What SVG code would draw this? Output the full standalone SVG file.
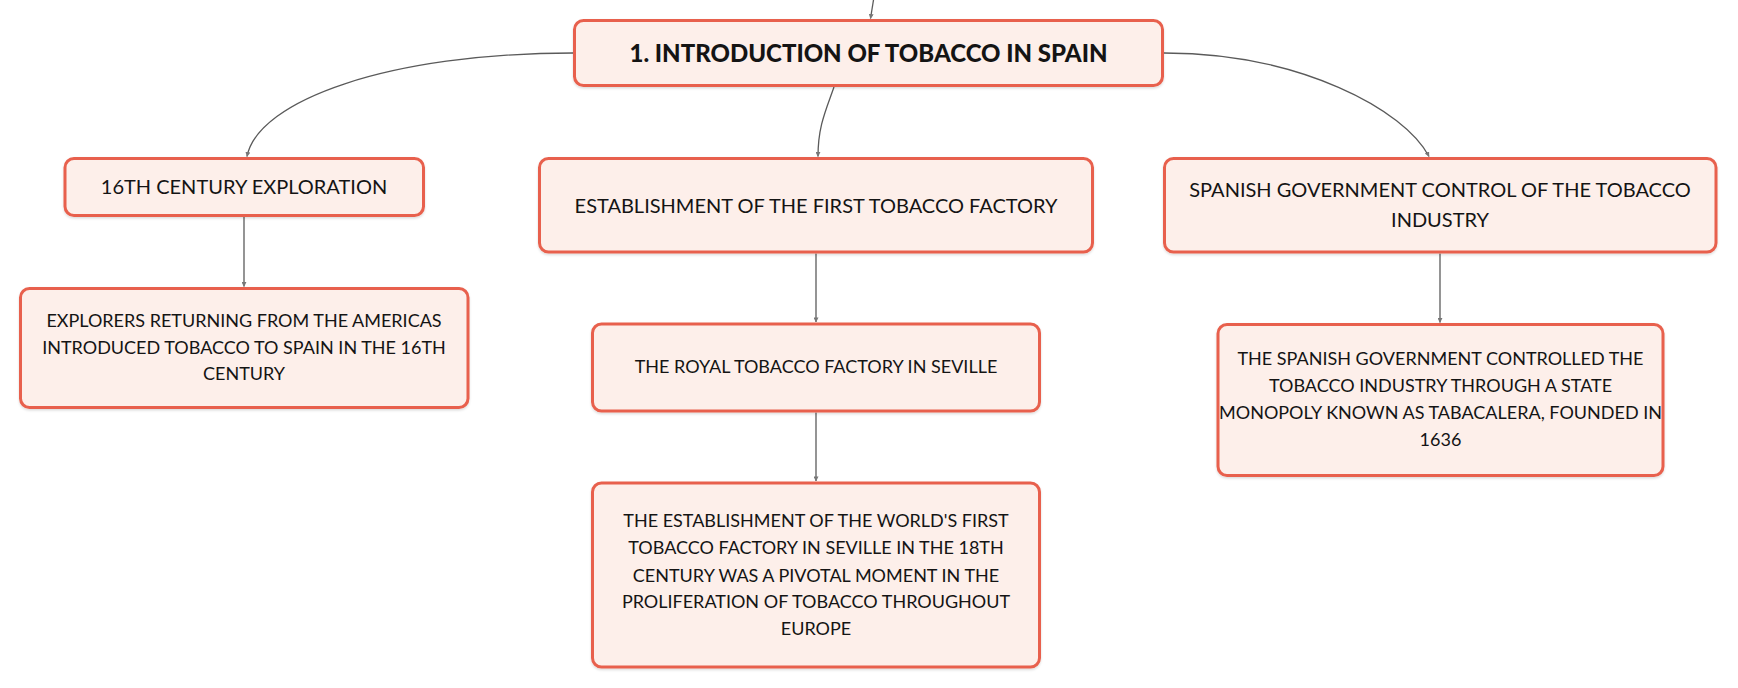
<svg xmlns="http://www.w3.org/2000/svg" width="1738" height="688" viewBox="0 0 1738 688">
<style>
.box{fill:#FDEFEA;stroke:#E8614D;stroke-width:3;filter:url(#sh)}
.t{font-family:Lato,"Noto Sans","Liberation Sans",sans-serif;fill:#141414;text-anchor:middle}
.t1{font-size:20px}
.t2{font-size:18px}
.title{font-size:24px;font-weight:900}
.c{fill:none;stroke:#5a5a5a;stroke-width:1.3;marker-end:url(#ah)}
.v{fill:none;stroke:#7a7a7a;stroke-width:1.6;marker-end:url(#ah)}
</style>
<defs>
<marker id="ah" viewBox="0 0 6 6" refX="5.5" refY="3" markerWidth="5" markerHeight="5" markerUnits="userSpaceOnUse" orient="auto">
<path d="M0,0 L6,3 L0,6 z" fill="#777"/>
</marker>
<filter id="sh" x="-5%" y="-10%" width="110%" height="125%">
<feDropShadow dx="0" dy="1.5" stdDeviation="1.2" flood-color="#000" flood-opacity="0.14"/>
</filter>
</defs>
<rect width="1738" height="688" fill="#ffffff"/>
<g id="connectors">
<path class="c" d="M873.5,0 L870.5,18.5"/>
<path class="c" d="M573,53 C390,53 258,100 247,156.5"/>
<path class="c" d="M834,87 C826,110 818,126 818,156.5"/>
<path class="c" d="M1164,53 C1300,53 1405,110 1429,156.5"/>
<path class="v" d="M244,217 L244,286.5"/>
<path class="v" d="M816,253.5 L816,322"/>
<path class="v" d="M816,412.5 L816,481"/>
<path class="v" d="M1440,253.5 L1440,322.5"/>
</g>
<g id="n-main">
<rect class="box" x="574.5" y="20.5" width="588" height="65" rx="9"/>
<text class="t title" x="868.5" y="62">1. INTRODUCTION OF TOBACCO IN SPAIN</text>
</g>
<g id="n-exploration">
<rect class="box" x="65" y="158.5" width="358.5" height="57" rx="9"/>
<text class="t t1" x="244" y="194">16TH CENTURY EXPLORATION</text>
</g>
<g id="n-explorers">
<rect class="box" x="20.5" y="288.5" width="447.5" height="119" rx="9"/>
<text class="t t2" x="244" y="327">EXPLORERS RETURNING FROM THE AMERICAS</text>
<text class="t t2" x="244" y="353.5">INTRODUCED TOBACCO TO SPAIN IN THE 16TH</text>
<text class="t t2" x="244" y="380">CENTURY</text>
</g>
<g id="n-establishment">
<rect class="box" x="539.5" y="158.5" width="553" height="93.5" rx="9"/>
<text class="t t1" x="816" y="212.5">ESTABLISHMENT OF THE FIRST TOBACCO FACTORY</text>
</g>
<g id="n-royal">
<rect class="box" x="592.5" y="324" width="447" height="87" rx="9"/>
<text class="t t2" x="816" y="373.3">THE ROYAL TOBACCO FACTORY IN SEVILLE</text>
</g>
<g id="n-worldfirst">
<rect class="box" x="592.5" y="483" width="447" height="184" rx="9"/>
<text class="t t2" x="816" y="527.3">THE ESTABLISHMENT OF THE WORLD'S FIRST</text>
<text class="t t2" x="816" y="554">TOBACCO FACTORY IN SEVILLE IN THE 18TH</text>
<text class="t t2" x="816" y="581.5">CENTURY WAS A PIVOTAL MOMENT IN THE</text>
<text class="t t2" x="816" y="608.3">PROLIFERATION OF TOBACCO THROUGHOUT</text>
<text class="t t2" x="816" y="635.3">EUROPE</text>
</g>
<g id="n-govcontrol">
<rect class="box" x="1164.5" y="158.5" width="551.5" height="93.5" rx="9"/>
<text class="t t1" x="1440" y="197.3">SPANISH GOVERNMENT CONTROL OF THE TOBACCO</text>
<text class="t t1" x="1440" y="227.3">INDUSTRY</text>
</g>
<g id="n-tabacalera">
<rect class="box" x="1218" y="324.5" width="445" height="151" rx="9"/>
<text class="t t2" x="1440.5" y="365">THE SPANISH GOVERNMENT CONTROLLED THE</text>
<text class="t t2" x="1440.5" y="392">TOBACCO INDUSTRY THROUGH A STATE</text>
<text class="t t2" x="1440.5" y="419">MONOPOLY KNOWN AS TABACALERA, FOUNDED IN</text>
<text class="t t2" x="1440.5" y="446">1636</text>
</g>
</svg>
